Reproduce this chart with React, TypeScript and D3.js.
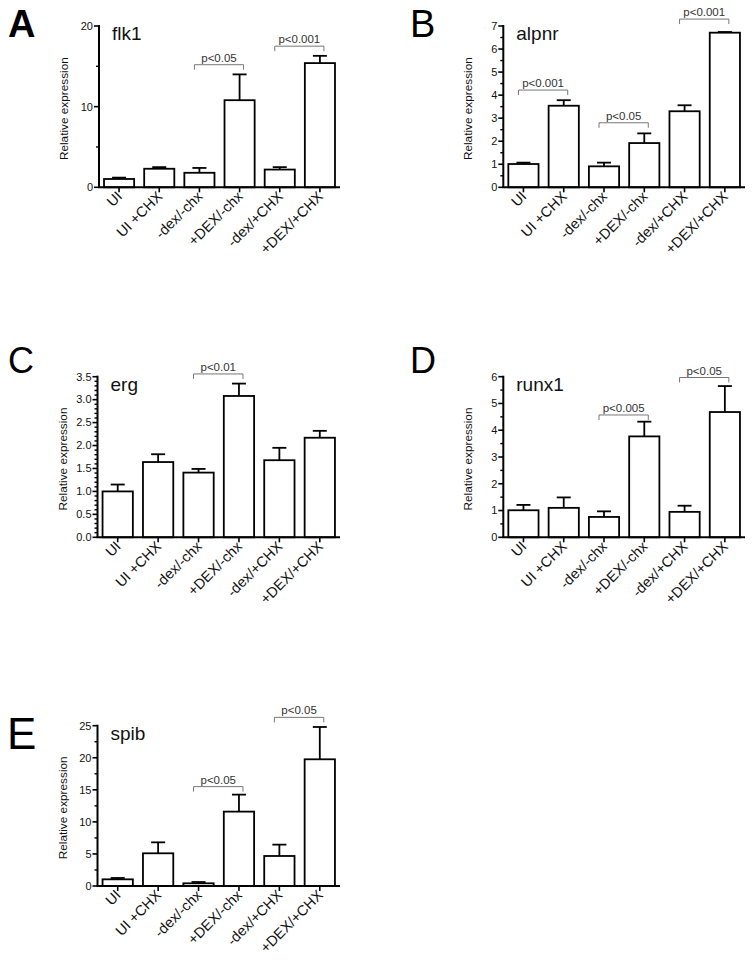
import React from "react";
import * as d3 from "d3";

const categories = ["UI", "UI +CHX", "-dex/-chx", "+DEX/-chx", "-dex/+CHX", "+DEX/+CHX"];

const flk1Means = [1.03, 2.3, 1.8, 10.8, 2.2, 15.4];
const flk1Sem = [0.17, 0.2, 0.6, 3.2, 0.3, 0.9];
const alpnrMeans = [1.01, 3.54, 0.91, 1.92, 3.3, 6.71];
const alpnrSem = [0.06, 0.24, 0.16, 0.42, 0.26, 0.03];
const ergMeans = [1.0, 1.64, 1.41, 3.08, 1.68, 2.17];
const ergSem = [0.15, 0.17, 0.08, 0.27, 0.27, 0.15];
const runx1Means = [1.01, 1.1, 0.76, 3.77, 0.95, 4.68];
const runx1Sem = [0.2, 0.39, 0.21, 0.55, 0.23, 0.97];
const spibMeans = [1.04, 5.1, 0.42, 11.6, 4.68, 19.76];
const spibSem = [0.21, 1.71, 0.2, 2.65, 1.77, 5.04];

type Bracket = [number, number, number, string];
const flk1Brackets: Bracket[] = [[2, 3, 15.2, "p<0.05"], [4, 5, 17.5, "p<0.001"]];
const alpnrBrackets: Bracket[] = [[0, 1, 4.22, "p<0.001"], [2, 3, 2.8, "p<0.05"], [4, 5, 7.3, "p<0.001"]];
const ergBrackets: Bracket[] = [[2, 3, 3.56, "p<0.01"]];
const runx1Brackets: Bracket[] = [[2, 3, 4.57, "p<0.005"], [4, 5, 5.97, "p<0.05"]];
const spibBrackets: Bracket[] = [[2, 3, 15.5, "p<0.05"], [4, 5, 26.3, "p<0.05"]];

const yLabel = "Relative expression";
const FONT = "'Liberation Sans', Arial, Helvetica, sans-serif";

interface PanelProps {
  letter: string;
  letterBold?: boolean;
  letterSize: number;
  letterX: number;
  letterY: number;
  title: string;
  means: number[];
  sem: number[];
  brackets: Bracket[];
  yMax: number;
  major: number;
  minor: number;
  decimals: number;
  x0: number;
  x1: number;
  yTop: number;
  yBottom: number;
}

function Panel(p: PanelProps) {
  const x = d3.scaleBand<string>().domain(categories).range([p.x0, p.x1]).paddingInner(0.25).paddingOuter(0.125);
  const y = d3.scaleLinear().domain([0, p.yMax]).range([p.yBottom, p.yTop]);
  const majorTicks = d3.range(0, p.yMax + 1e-9, p.major);
  const minorTicks = d3.range(0, p.yMax + 1e-9, p.minor).filter(
    (v) => Math.abs(v / p.major - Math.round(v / p.major)) > 1e-6
  );
  const fmt = d3.format(`.${p.decimals}f`);
  const bw = x.bandwidth();
  const cx = (c: string) => (x(c) as number) + bw / 2;
  const capHalf = 7;
  return (
    <g>
      <text x={p.letterX} y={p.letterY} fontSize={p.letterSize} fontWeight={p.letterBold ? "bold" : "normal"} fontFamily={FONT}>
        {p.letter}
      </text>
      {categories.map((c, i) => (
        <g key={c}>
          <line x1={cx(c)} x2={cx(c)} y1={y(p.means[i])} y2={y(p.means[i] + p.sem[i])} stroke="#000" strokeWidth={1.8} />
          <line x1={cx(c) - capHalf} x2={cx(c) + capHalf} y1={y(p.means[i] + p.sem[i])} y2={y(p.means[i] + p.sem[i])} stroke="#000" strokeWidth={1.8} />
          <rect x={x(c)} y={y(p.means[i])} width={bw} height={p.yBottom - y(p.means[i])} fill="#fff" stroke="#000" strokeWidth={1.8} />
        </g>
      ))}
      <line x1={p.x0} x2={p.x0} y1={p.yTop - 1} y2={p.yBottom} stroke="#000" strokeWidth={2} />
      {majorTicks.map((t) => (
        <g key={"M" + t}>
          <line x1={p.x0 - 5} x2={p.x0} y1={y(t)} y2={y(t)} stroke="#000" strokeWidth={1.6} />
          <text x={p.x0 - 6} y={y(t)} dy="0.35em" textAnchor="end" fontSize={11} fontFamily={FONT} fill="#111">
            {fmt(t)}
          </text>
        </g>
      ))}
      {minorTicks.map((t) => (
        <line key={"m" + t} x1={p.x0 - 3} x2={p.x0} y1={y(t)} y2={y(t)} stroke="#000" strokeWidth={1.4} />
      ))}
      <text
        transform={`translate(${p.x0 - 31},${(p.yTop + p.yBottom) / 2 + 2}) rotate(-90)`}
        textAnchor="middle"
        fontSize={11.8}
        fontFamily={FONT}
        fill="#111"
      >
        {yLabel}
      </text>
      <line x1={p.x0 - 1} x2={p.x1} y1={p.yBottom} y2={p.yBottom} stroke="#000" strokeWidth={2} />
      {categories.map((c) => (
        <g key={"xt" + c}>
          <line x1={cx(c)} x2={cx(c)} y1={p.yBottom} y2={p.yBottom + 5} stroke="#000" strokeWidth={1.6} />
          <text
            transform={`translate(${cx(c) + 4},${p.yBottom + 10}) rotate(-45)`}
            textAnchor="end"
            fontSize={14.5}
            fontFamily={FONT}
            fill="#111"
          >
            {c}
          </text>
        </g>
      ))}
      <text x={p.x0 + 13} y={p.yTop + 14} fontSize={19} fontFamily={FONT} fill="#111">
        {p.title}
      </text>
      {p.brackets.map(([a, b, v, label], k) => {
        const xa = cx(categories[a]) - 5;
        const xb = cx(categories[b]) + 4;
        const yy = y(v);
        return (
          <g key={"b" + k}>
            <path d={`M${xa},${yy + 5}V${yy}H${xb}V${yy + 5}`} fill="none" stroke="#777" strokeWidth={1} />
            <text x={(xa + xb) / 2} y={yy - 3} textAnchor="middle" fontSize={11.5} fontFamily={FONT} fill="#333">
              {label}
            </text>
          </g>
        );
      })}
    </g>
  );
}

export default function App() {
  return (
    <svg width={755} height={966} style={{ position: "absolute", left: 0, top: 0, background: "#fff" }}>
      <rect width={755} height={966} fill="#fff" />
      <Panel letter="A" letterBold letterSize={38} letterX={8} letterY={37} title="flk1" means={flk1Means} sem={flk1Sem}
        brackets={flk1Brackets} yMax={20} major={10} minor={5} decimals={0} x0={99} x1={340} yTop={26} yBottom={187.3} />
      <Panel letter="B" letterSize={38} letterX={410} letterY={37} title="alpnr" means={alpnrMeans} sem={alpnrSem}
        brackets={alpnrBrackets} yMax={7} major={1} minor={0.5} decimals={0} x0={503.3} x1={745} yTop={26} yBottom={187.3} />
      <Panel letter="C" letterSize={36} letterX={8} letterY={373} title="erg" means={ergMeans} sem={ergSem}
        brackets={ergBrackets} yMax={3.5} major={0.5} minor={0.1} decimals={1} x0={97.5} x1={340} yTop={376.7} yBottom={537.3} />
      <Panel letter="D" letterSize={36} letterX={410} letterY={373} title="runx1" means={runx1Means} sem={runx1Sem}
        brackets={runx1Brackets} yMax={6} major={1} minor={0.5} decimals={0} x0={503.3} x1={745} yTop={376.7} yBottom={537.3} />
      <Panel letter="E" letterSize={44} letterX={7} letterY={749} title="spib" means={spibMeans} sem={spibSem}
        brackets={spibBrackets} yMax={25} major={5} minor={2.5} decimals={0} x0={97.5} x1={340} yTop={725.7} yBottom={886} />
    </svg>
  );
}
